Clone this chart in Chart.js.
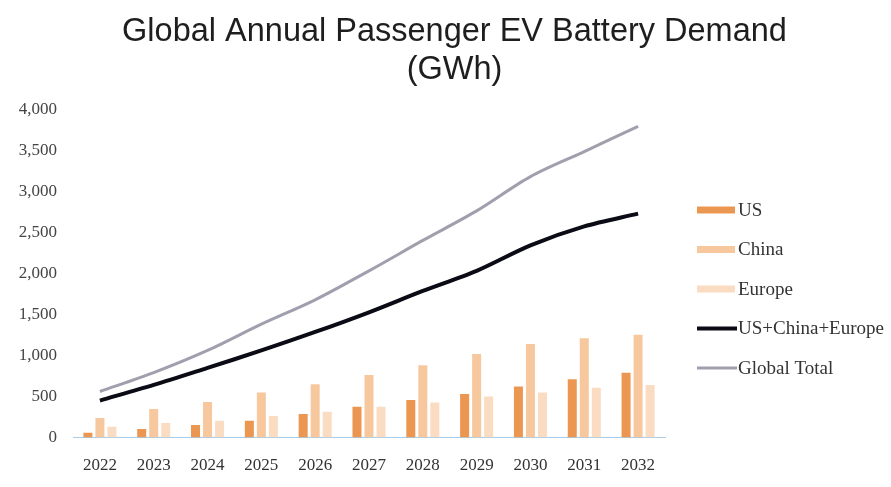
<!DOCTYPE html>
<html>
<head>
<meta charset="utf-8">
<title>Global Annual Passenger EV Battery Demand</title>
<script src="https://cdn.jsdelivr.net/npm/chart.js@4/dist/chart.umd.min.js"></script>
<style>
  html, body { margin: 0; padding: 0; background: #ffffff; }
  #wrap { width: 891px; height: 487px; }
</style>
</head>
<body>
<div id="wrap"><canvas id="chart" width="891" height="487"></canvas></div>
<script>
// Years on the horizontal axis
const years = ['2022', '2023', '2024', '2025', '2026', '2027', '2028', '2029', '2030', '2031', '2032'];

// Annual battery demand by region (GWh)
const usDemand     = [58, 104, 152, 205, 287, 376, 457, 530, 620, 710, 790];
const chinaDemand  = [238, 348, 433, 547, 648, 762, 880, 1018, 1140, 1210, 1250];
const europeDemand = [132, 177, 205, 262, 315, 376, 425, 498, 547, 607, 640];

// Combined and worldwide totals (GWh)
const threeRegionTotal = [450, 640, 848, 1060, 1285, 1525, 1785, 2030, 2340, 2571, 2726];
const globalTotal      = [560, 790, 1060, 1380, 1677, 2030, 2400, 2760, 3177, 3482, 3790];

// Value axis ticks
const yTicks = [0, 500, 1000, 1500, 2000, 2500, 3000, 3500, 4000];

const serif = "'Liberation Serif', 'Times New Roman', serif";

// Legend drawn in the band to the right of the plot, one row per dataset
const sideLegend = {
  id: 'sideLegend',
  afterDraw(chart, args, opts) {
    const ctx = chart.ctx;
    const band = chart.scales.legendBand;
    const x0 = band.left + opts.inset;
    ctx.save();
    ctx.font = opts.fontSize + 'px ' + serif;
    ctx.textBaseline = 'middle';
    ctx.textAlign = 'left';
    chart.data.datasets.forEach((ds, i) => {
      const y = opts.firstRow + i * opts.rowGap;
      if (ds.type === 'line') {
        ctx.strokeStyle = ds.borderColor;
        ctx.lineWidth = ds.borderWidth;
        ctx.beginPath();
        ctx.moveTo(x0, y);
        ctx.lineTo(x0 + opts.swatch + 2, y);
        ctx.stroke();
      } else {
        ctx.fillStyle = ds.backgroundColor;
        ctx.fillRect(x0, y - opts.barSwatchH / 2, opts.swatch, opts.barSwatchH);
      }
      ctx.fillStyle = opts.color;
      ctx.fillText(ds.label, x0 + opts.swatch + 3, y + 1);
    });
    ctx.restore();
  }
};

new Chart(document.getElementById('chart'), {
  data: {
    labels: years,
    datasets: [
      { type: 'bar', label: 'US', data: usDemand, backgroundColor: '#EB9752',
        categoryPercentage: 0.67, barPercentage: 0.75 },
      { type: 'bar', label: 'China', data: chinaDemand, backgroundColor: '#F7C89E',
        categoryPercentage: 0.67, barPercentage: 0.75 },
      { type: 'bar', label: 'Europe', data: europeDemand, backgroundColor: '#FADCC3',
        categoryPercentage: 0.67, barPercentage: 0.75 },
      { type: 'line', label: 'US+China+Europe', data: threeRegionTotal,
        borderColor: '#0B0B16', backgroundColor: '#0B0B16', borderWidth: 4,
        pointRadius: 0, tension: 0.3, fill: false },
      { type: 'line', label: 'Global Total', data: globalTotal,
        borderColor: '#A09FAE', backgroundColor: '#A09FAE', borderWidth: 3,
        pointRadius: 0, tension: 0.3, fill: false }
    ]
  },
  plugins: [sideLegend],
  options: {
    responsive: false,
    animation: false,
    layout: { padding: { left: 18, right: 0, top: 0, bottom: 11 } },
    scales: {
      x: {
        offset: true,
        afterFit: (scale) => { scale.height = 38.5; },
        grid: { display: false, drawTicks: false },
        border: { display: true, color: '#A9CCE9', width: 1 },
        ticks: { color: '#333333', padding: 18, maxRotation: 0, font: { family: serif, size: 17 } }
      },
      y: {
        min: 0,
        max: 4000,
        afterBuildTicks: (scale) => { scale.ticks = yTicks.map(v => ({ value: v })); },
        afterFit: (scale) => { scale.width = 55; },
        grid: { display: false, drawTicks: false },
        border: { display: false },
        ticks: {
          color: '#444444', padding: 16, font: { family: serif, size: 17 },
          callback: (v) => Number(v).toLocaleString('en-US')
        }
      },
      legendBand: {
        type: 'linear',
        position: 'right',
        display: true,
        grid: { display: false, drawTicks: false },
        border: { display: false },
        ticks: { display: false },
        afterFit: (scale) => { scale.width = 226; }
      }
    },
    plugins: {
      title: {
        display: true,
        text: ['Global Annual Passenger EV Battery Demand', '(GWh)'],
        color: '#1E1E1E',
        font: { family: "'Liberation Sans', Arial, sans-serif", size: 32.5, weight: 'normal', lineHeight: 1.17 },
        padding: { top: 13, bottom: 20 }
      },
      legend: { display: false },
      sideLegend: {
        inset: 32, swatch: 38, barSwatchH: 7, firstRow: 210, rowGap: 39.5,
        fontSize: 19, color: '#333333'
      },
      tooltip: { enabled: false }
    }
  }
});
</script>
</body>
</html>
